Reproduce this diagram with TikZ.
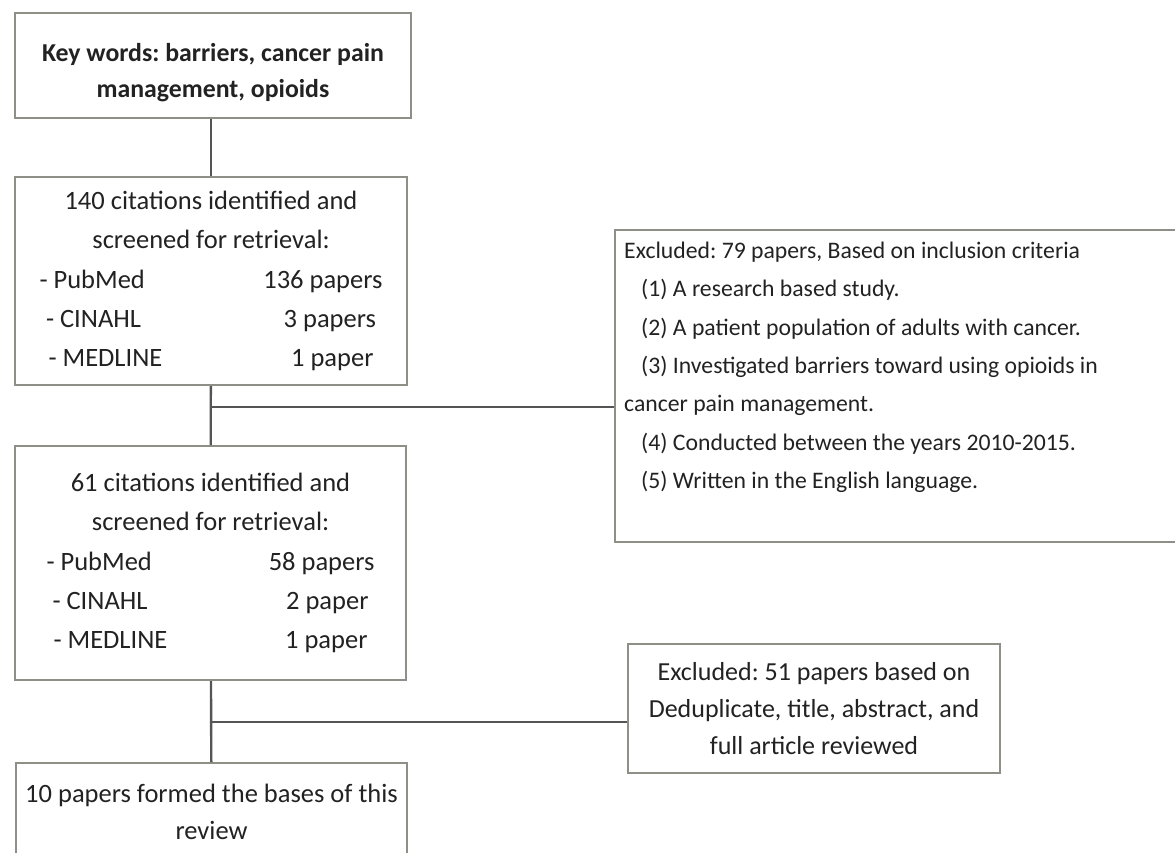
\documentclass[tikz,border=0pt]{standalone}
\usepackage{fontspec}
\setmainfont{Carlito}
\frenchspacing
\usetikzlibrary{positioning}
\definecolor{boxline}{HTML}{8E9088}
\definecolor{linkline}{HTML}{555555}
\definecolor{txt}{HTML}{222222}
\tikzset{
  box/.style={draw=boxline, line width=2pt, fill=white, inner sep=0pt, align=center, text=txt, font=\fontsize{26.5}{39.3}\selectfont},
  textblock/.style={inner sep=0pt, align=left, text=txt, font=\fontsize{23.7}{38.3}\selectfont},
  link/.style={draw=linkline, line width=2.4pt},
}
\newcommand{\srcrow}[3]{\makebox[#1]{#2\hfill#3}}

\begin{document}
\begin{tikzpicture}[x=1pt,y=-1pt]
	\useasboundingbox (0,0) rectangle (1175,853);
	\node[box, minimum width=396pt, minimum height=105pt] (kw) at (213,65.5) {};
	\node[textblock, align=center, font=\bfseries\fontsize{25.8}{36}\selectfont] (kwtxt) at (213,72.5) {Key words: barriers, cancer pain\\management, opioids};
	\node[box, minimum width=392pt, minimum height=208pt] (cit1) at (211,281) {140 citations identified and\\screened for retrieval:\\\srcrow{343pt}{- PubMed}{136 papers}\\\srcrow{330pt}{- CINAHL}{3 papers}\\\srcrow{325pt}{- MEDLINE}{1 paper}};
	\node[box, minimum width=391pt, minimum height=234pt] (cit2) at (210.5,563) {61 citations identified and\\screened for retrieval:\\\srcrow{328pt}{- PubMed}{58 papers}\\\srcrow{316pt}{- CINAHL}{2 paper}\\\srcrow{314pt}{- MEDLINE}{1 paper}};
	\node[box, minimum width=391pt, minimum height=97pt, font=\fontsize{26.5}{37}\selectfont] (final) at (211.5,811.5) {10 papers formed the bases of this\\review};
	\node[box, minimum width=570pt, minimum height=312pt] (excl1) at (900,386) {};
	\node[textblock, below right=13pt and 10pt of excl1.north west, anchor=north west] (excl1txt) {Excluded: 79 papers, Based on inclusion criteria\\\hspace*{17pt}(1) A research based study.\\\hspace*{17pt}(2) A patient population of adults with cancer.\\\hspace*{17pt}(3) Investigated barriers toward using opioids in\\cancer pain management.\\\hspace*{17pt}(4) Conducted between the years 2010-2015.\\\hspace*{17pt}(5) Written in the English language.};
	\node[box, minimum width=372pt, minimum height=129pt, font=\fontsize{26}{37}\selectfont] (excl2) at (814,708.5) {Excluded: 51 papers based on\\Deduplicate, title, abstract, and\\full article reviewed};
	\coordinate (b1) at (211,407);
	\coordinate (b2) at (211,722);

	\draw[link] (cit1.north) -- (cit1.north |- kw.south);
	\draw[link] (cit1) -- (cit2);
	\draw[link] (cit2) -- (final);
	\draw[link] (b1) -- (b1 -| excl1.west);
	\draw[link] (b2) -- (b2 -| excl2.west);
\end{tikzpicture}
\end{document}
